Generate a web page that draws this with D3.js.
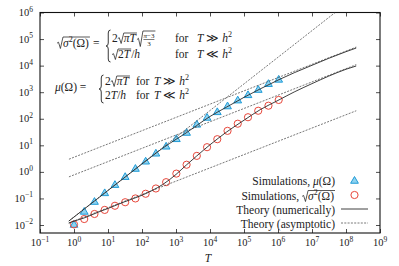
<!DOCTYPE html>
<html>
<head>
<meta charset="utf-8">
<script src="https://d3js.org/d3.v7.min.js"></script>
<style>
body { margin: 0; background: #fff; }
</style>
</head>
<body>
<svg id="chart" width="399" height="266" font-family="Liberation Serif, Times New Roman, DejaVu Serif, serif"></svg>
<script>
// simulation points, T = 2^k
var simT = [1, 2, 4, 8, 16, 32, 64, 128, 256, 512, 1024, 2048, 4096, 8192, 16384,
            32768, 65536, 131072, 262144, 524288, 1048576];
var simMu = [0.0100, 0.031, 0.073, 0.155, 0.316, 0.63, 1.28, 2.4, 4.8, 8.8, 16.8,
             29, 59, 107, 174, 288, 480, 760, 1200, 2000, 2900];
var simSigma = [0.0105, 0.0168, 0.026, 0.037, 0.053, 0.072, 0.10, 0.15, 0.237, 0.41, 0.86,
                1.86, 4.0, 8.5, 17, 35, 65, 114, 200, 310, 510];

// theory (numerically)
var theoryT = [0.7, 1, 2, 5, 10, 30, 100, 200, 400, 1000, 2000, 4000, 1e4, 3e4,
               1e5, 3e5, 1e6, 3e6, 1e7, 3e7, 1e8, 2e8];
var theoryMu = [0.014, 0.02, 0.04, 0.1, 0.2, 0.6, 2.0, 3.95, 7.7, 16.8, 29.5, 55, 122, 270,
                640, 1330, 2850, 5400, 10300, 18500, 33500, 46000];
var theorySigma = [0.0118, 0.014, 0.0185, 0.03, 0.042, 0.074, 0.132, 0.2, 0.33, 0.8, 1.8, 3.9,
                   10.5, 31, 88, 220, 490, 1020, 2100, 3950, 7300, 9700];

// asymptotic lines, end points [T, value]
var asymMuLarge = [[0.71, 3.0], [2e8, 50000]];
var asymMuSmall = [[0.71, 0.0142], [4.8e7, 1e6]];
var asymSigLarge = [[0.71, 0.65], [2e8, 10900]];
var asymSigSmall = [[0.71, 0.0119], [2e8, 200]];

var xTicks = [1e-1, 1e0, 1e1, 1e2, 1e3, 1e4, 1e5, 1e6, 1e7, 1e8, 1e9];
var xTickExp = ["\u22121", "0", "1", "2", "3", "4", "5", "6", "7", "8", "9"];
var yTicks = [1e-2, 1e-1, 1e0, 1e1, 1e2, 1e3, 1e4, 1e5, 1e6];
var yTickExp = ["\u22122", "\u22121", "0", "1", "2", "3", "4", "5", "6"];

var svg = d3.select("#chart");
var L = 40, R = 380, Tp = 12.5, B = 233;
var ink = "#222";
var sp = "\u00a0";

var x = d3.scaleLog().domain([0.1, 1e9]).range([L, R]);
var y = d3.scaleLog().domain([0.005, 1e6]).range([B, Tp]);

svg.append("clipPath").attr("id", "clip")
  .append("rect").attr("x", L).attr("y", Tp).attr("width", R - L).attr("height", B - Tp);

// axes, ticks pointing inward
function styleAxis(g) {
  g.select(".domain").remove();
  g.selectAll(".tick line").attr("stroke", ink).attr("stroke-width", 0.8);
  g.selectAll(".tick text").remove();
}
svg.append("g").attr("transform", "translate(0," + B + ")")
  .call(d3.axisBottom(x).tickValues(xTicks).tickSize(-4)).call(styleAxis);
svg.append("g").attr("transform", "translate(0," + Tp + ")")
  .call(d3.axisTop(x).tickValues(xTicks).tickSize(-4)).call(styleAxis);
svg.append("g").attr("transform", "translate(" + L + ",0)")
  .call(d3.axisLeft(y).tickValues(yTicks).tickSize(-4)).call(styleAxis);
svg.append("g").attr("transform", "translate(" + R + ",0)")
  .call(d3.axisRight(y).tickValues(yTicks).tickSize(-4)).call(styleAxis);

svg.append("rect").attr("x", L).attr("y", Tp).attr("width", R - L).attr("height", B - Tp)
  .attr("fill", "none").attr("stroke", "#111").attr("stroke-width", 1.1);

// tick labels 10^n
xTicks.forEach(function(v, i) {
  var t = svg.append("text").attr("x", x(v)).attr("y", 246).attr("font-size", 10.5)
    .attr("text-anchor", "middle").attr("fill", ink);
  t.append("tspan").text("10");
  t.append("tspan").text(xTickExp[i]).attr("font-size", 7.5).attr("dy", -4.5);
});
yTicks.forEach(function(v, i) {
  var t = svg.append("text").attr("x", 33).attr("y", y(v) + 3.5).attr("font-size", 10.5)
    .attr("text-anchor", "end").attr("fill", ink);
  t.append("tspan").text("10");
  t.append("tspan").text(yTickExp[i]).attr("font-size", 7.5).attr("dy", -4.5);
});
svg.append("text").attr("x", 208).attr("y", 262).attr("font-size", 11.5).attr("fill", ink)
  .attr("font-style", "italic").attr("text-anchor", "middle").text("T");

// markers
var plot = svg.append("g").attr("clip-path", "url(#clip)");
var triColor = "#1f9bd7", triFill = "#8fd3f0", circColor = "#e8473b";
var tri = d3.symbol().type(d3.symbolTriangle).size(26);

plot.selectAll(".tri").data(simT).enter().append("path")
  .attr("d", tri)
  .attr("transform", function(d, i) { return "translate(" + x(d) + "," + y(simMu[i]) + ")"; })
  .attr("fill", triFill).attr("stroke", triColor).attr("stroke-width", 1);
plot.selectAll(".circ").data(simT).enter().append("circle")
  .attr("cx", function(d) { return x(d); })
  .attr("cy", function(d, i) { return y(simSigma[i]); })
  .attr("r", 3.6).attr("fill", "none").attr("stroke", circColor).attr("stroke-width", 1);

// lines
var line = d3.line().x(function(d) { return x(d[0]); }).y(function(d) { return y(d[1]); });
[asymMuLarge, asymMuSmall, asymSigLarge, asymSigSmall].forEach(function(pts) {
  plot.append("path").attr("d", line(pts)).attr("fill", "none")
    .attr("stroke", "#555").attr("stroke-width", 0.8).attr("stroke-dasharray", "2,1.3");
});
[theoryMu, theorySigma].forEach(function(vals) {
  var pts = theoryT.map(function(t, i) { return [t, vals[i]]; });
  plot.append("path").attr("d", line.curve(d3.curveMonotoneX)(pts)).attr("fill", "none")
    .attr("stroke", "#2a2a2a").attr("stroke-width", 0.9);
});

// text helpers
function put(g, x0, yb, parts, size) {
  var t = g.append("text").attr("x", x0).attr("y", yb).attr("font-size", size).attr("fill", ink);
  var shift = 0;
  parts.forEach(function(p) {
    var s = t.append("tspan").text(p.t);
    var target = p.sup ? -size * 0.4 : 0;
    if (target !== shift) { s.attr("dy", target - shift); shift = target; }
    if (p.i) s.attr("font-style", "italic");
    if (p.sup) s.attr("font-size", size * 0.7);
  });
  return x0 + t.node().getComputedTextLength();
}
function radical(g, x0, yb, w, h) {
  var d = "M" + x0 + "," + (yb - h * 0.38) + " L" + (x0 + 1.5) + "," + (yb - h * 0.48) +
    " L" + (x0 + 3.4) + "," + (yb + 1.5) + " L" + (x0 + 6) + "," + (yb - h) +
    " L" + (x0 + 6 + w) + "," + (yb - h);
  g.append("path").attr("d", d).attr("fill", "none").attr("stroke", ink).attr("stroke-width", 0.75);
  return x0 + 6;
}
function sqrtOf(g, x0, yb, parts, size, h) {
  var start = x0 + 6;
  var end = put(g, start, yb, parts, size);
  radical(g, x0, yb, end - start + 1, h);
  return end + 1;
}
function brace(g, x0, y0, y1) {
  var m = (y0 + y1) / 2, w = 4.5, c = x0 + w / 2;
  var d = "M" + (x0 + w) + "," + y0 + " Q" + c + "," + y0 + " " + c + "," + (y0 + 3) +
    " L" + c + "," + (m - 3) + " Q" + c + "," + m + " " + x0 + "," + m +
    " Q" + c + "," + m + " " + c + "," + (m + 3) + " L" + c + "," + (y1 - 3) +
    " Q" + c + "," + y1 + " " + (x0 + w) + "," + y1;
  g.append("path").attr("d", d).attr("fill", "none").attr("stroke", ink).attr("stroke-width", 0.9);
}

var fs = 11.5;
var eq = svg.append("g");
// sigma equation
var xe = sqrtOf(eq, 57, 47, [{t: "\u03c3", i: 1}, {t: "2", sup: 1}, {t: "(\u03a9)"}], fs, 10);
put(eq, xe + 3, 47, [{t: "="}], fs);
brace(eq, 106, 30, 62);
var xa = put(eq, 112, 42, [{t: "2"}], fs);
xa = sqrtOf(eq, xa, 42, [{t: "\u03c0", i: 1}, {t: "T", i: 1}], fs, 9);
// sqrt of fraction (pi-3)/3
var fx = xa + 6.5;
var nw = put(eq, fx, 37.5, [{t: "\u03c0", i: 1}, {t: "\u22123"}], 7) - fx;
eq.append("line").attr("x1", fx).attr("x2", fx + nw).attr("y1", 39.5).attr("y2", 39.5)
  .attr("stroke", ink).attr("stroke-width", 0.6);
eq.append("text").attr("x", fx + nw / 2).attr("y", 45.5).attr("font-size", 7).attr("fill", ink)
  .attr("text-anchor", "middle").text("3");
radical(eq, xa, 45, nw + 1.5, 14);
put(eq, 175, 42, [{t: "for"}], fs);
put(eq, 197, 42, [{t: "T", i: 1}, {t: sp + "\u226b" + sp}, {t: "h", i: 1}, {t: "2", sup: 1}], fs);
var xb = sqrtOf(eq, 112, 58, [{t: "2"}, {t: "T", i: 1}], fs, 9);
put(eq, xb, 58, [{t: "/"}, {t: "h", i: 1}], fs);
put(eq, 175, 58, [{t: "for"}], fs);
put(eq, 197, 58, [{t: "T", i: 1}, {t: sp + "\u226a" + sp}, {t: "h", i: 1}, {t: "2", sup: 1}], fs);

// mu equation
put(eq, 55, 91, [{t: "\u03bc", i: 1}, {t: "(\u03a9)" + sp + "="}], fs);
brace(eq, 99, 75, 103);
var xc = put(eq, 105, 85, [{t: "2"}], fs);
sqrtOf(eq, xc, 85, [{t: "\u03c0", i: 1}, {t: "T", i: 1}], fs, 9);
put(eq, 136, 85, [{t: "for"}], fs);
put(eq, 154, 85, [{t: "T", i: 1}, {t: sp + "\u226b" + sp}, {t: "h", i: 1}, {t: "2", sup: 1}], fs);
put(eq, 105, 99, [{t: "2"}, {t: "T", i: 1}, {t: "/"}, {t: "h", i: 1}], fs);
put(eq, 136, 99, [{t: "for"}], fs);
put(eq, 154, 99, [{t: "T", i: 1}, {t: sp + "\u226a" + sp}, {t: "h", i: 1}, {t: "2", sup: 1}], fs);

// legend
var lg = svg.append("g");
var rightX = 335;
function rightRow(build) {
  var g = lg.append("g");
  var w = build(g);
  g.attr("transform", "translate(" + (rightX - w) + ",0)");
}
rightRow(function(g) {
  return put(g, 0, 185, [{t: "Simulations," + sp}, {t: "\u03bc", i: 1}, {t: "(\u03a9)"}], fs);
});
rightRow(function(g) {
  var a = put(g, 0, 200, [{t: "Simulations," + sp}], fs);
  return sqrtOf(g, a, 200, [{t: "\u03c3", i: 1}, {t: "2", sup: 1}, {t: "(\u03a9)"}], fs, 9.5);
});
rightRow(function(g) { return put(g, 0, 213.5, [{t: "Theory (numerically)"}], fs); });
rightRow(function(g) { return put(g, 0, 227.5, [{t: "Theory (asymptotic)"}], fs); });

lg.append("path").attr("d", tri).attr("transform", "translate(354.5,181)")
  .attr("fill", triFill).attr("stroke", triColor).attr("stroke-width", 1);
lg.append("circle").attr("cx", 354.5).attr("cy", 195).attr("r", 3.6)
  .attr("fill", "none").attr("stroke", circColor).attr("stroke-width", 1);
lg.append("line").attr("x1", 341).attr("x2", 368).attr("y1", 209).attr("y2", 209)
  .attr("stroke", "#2a2a2a").attr("stroke-width", 0.9);
lg.append("line").attr("x1", 341).attr("x2", 368).attr("y1", 223).attr("y2", 223)
  .attr("stroke", "#555").attr("stroke-width", 0.8).attr("stroke-dasharray", "2,1.3");
</script>
</body>
</html>
